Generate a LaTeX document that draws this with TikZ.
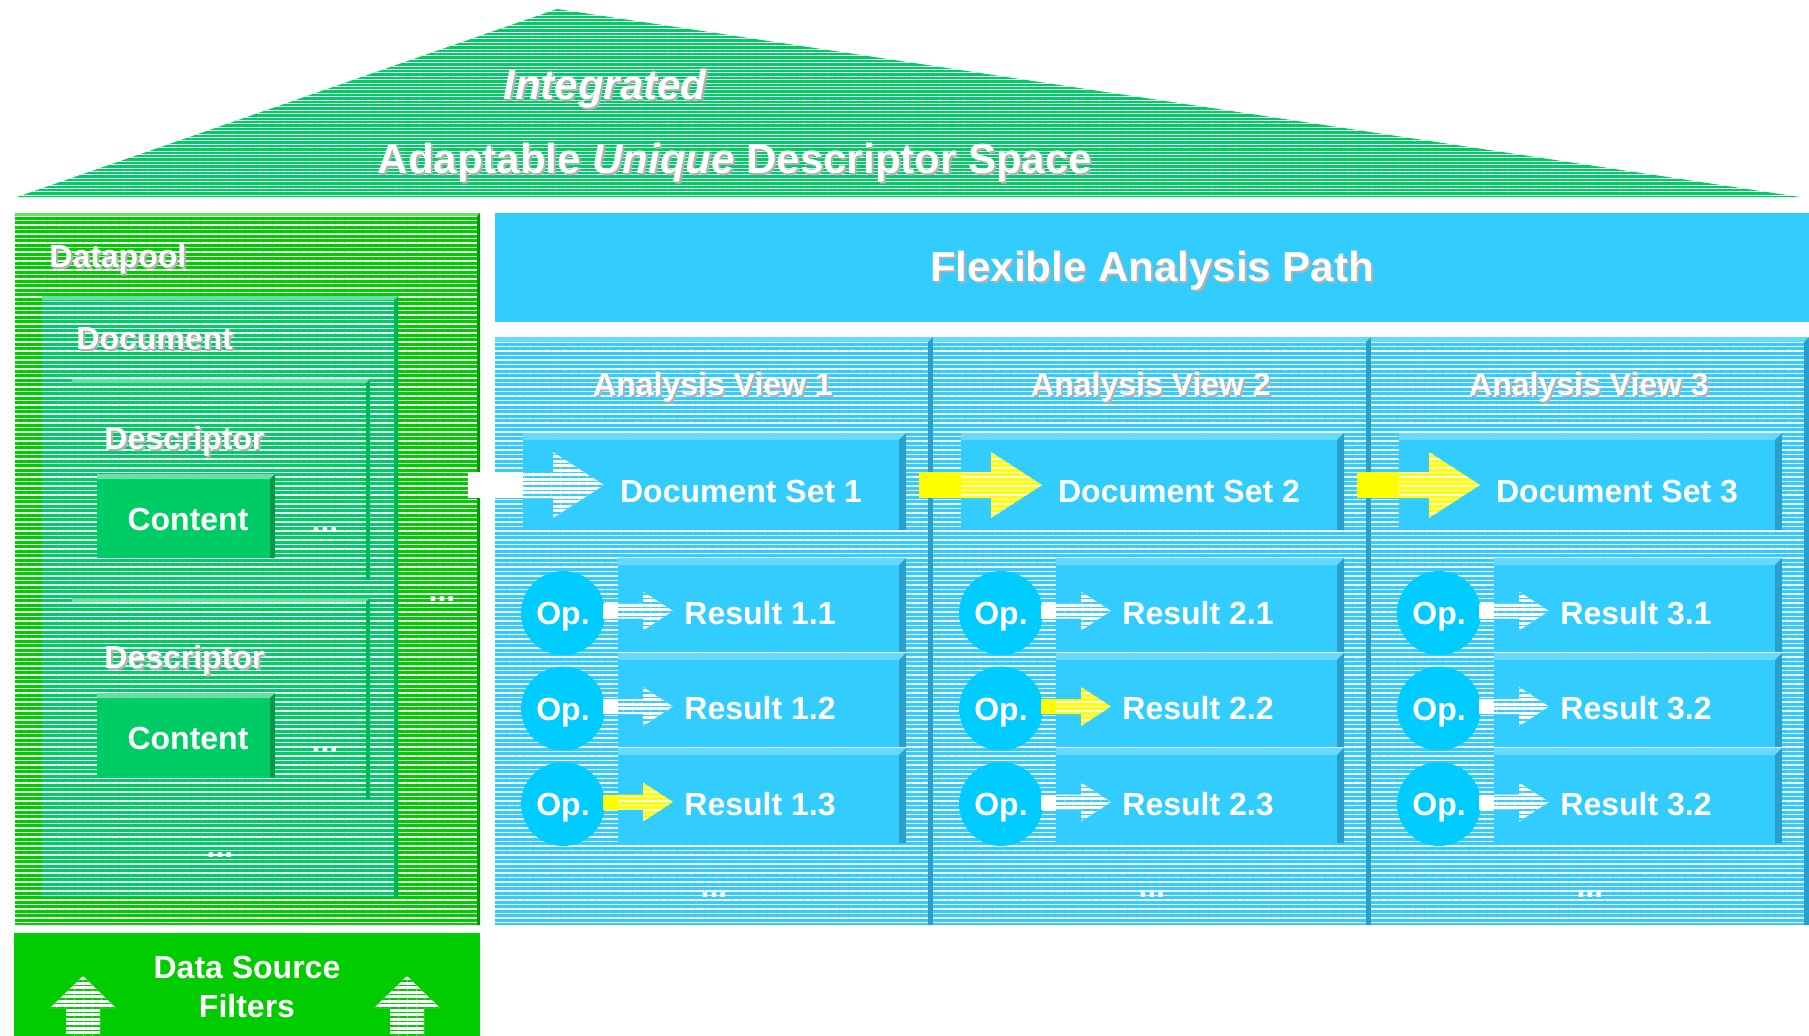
\documentclass[tikz,border=0pt]{standalone}
\usepackage{fontspec}
\setmainfont{Liberation Sans}
\usetikzlibrary{patterns.meta, fit, calc}

\definecolor{poolgreen}{HTML}{00CC00}
\definecolor{docgreen}{HTML}{00CC66}
\definecolor{pathblue}{HTML}{33CCFF}
\definecolor{opblue}{HTML}{00CCFF}
\definecolor{lightblue}{HTML}{66D9FF}
\definecolor{darkblue}{HTML}{2A9FCC}
\definecolor{markyellow}{HTML}{FFFF00}

\newcommand{\shadowed}[1]{\rlap{\kern1pt\raisebox{-1pt}{\color{black!30}#1}}#1}
% base colour, line colour, start x, box x, y, shaft half, head x, tip x, head half
\newcommand{\blockarrow}[9]{%
  \fill[#1] (#3,#5-#6) rectangle (#4,#5+#6);
  \path[preaction={fill=#1}, pattern={Lines[angle=0,distance=2.25pt,line width=0.6pt]}, pattern color=#2]
    (#4,#5-#6) -- (#7,#5-#6) -- (#7,#5-#9) -- (#8,#5) -- (#7,#5+#9) -- (#7,#5+#6) -- (#4,#5+#6) -- cycle;}

\begin{document}
\begin{tikzpicture}[x=0.5pt, y=-0.5pt,
    stripes/.style={preaction={fill=#1}, pattern={Lines[angle=0,distance=2.25pt,line width=0.6pt]}, pattern color=white},
    roof/.style={preaction={fill=docgreen}, pattern={Lines[angle=0,distance=1.7pt,line width=0.5pt]}, pattern color=white},
    bevel/.style n args={3}{path picture={
      \fill[#1] (path picture bounding box.north west) -- (path picture bounding box.north east)
        -- ($(path picture bounding box.north east)+(-#3,#3)$) -- ($(path picture bounding box.north west)+(0,#3)$) -- cycle;
      \fill[#2] ($(path picture bounding box.north east)+(-#3,#3)$) -- (path picture bounding box.north east)
        -- (path picture bounding box.south east) -- ($(path picture bounding box.south east)+(-#3,0)$) -- cycle;}},
    plainbox/.style={inner sep=0pt, outer sep=0pt},
    pool/.style={plainbox, stripes=poolgreen, bevel={poolgreen!60!white}{poolgreen!75!black}{3}},
    docbox/.style={plainbox, stripes=docgreen, bevel={docgreen!60!white}{docgreen!88!black}{4}},
    contentbox/.style={plainbox, fill=docgreen, bevel={docgreen!60!white}{docgreen!75!black}{5}},
    filterbox/.style={plainbox, fill=poolgreen},
    headbar/.style={plainbox, fill=pathblue},
    panel/.style={plainbox, stripes=pathblue, bevel={lightblue}{darkblue}{5}},
    setbox/.style={plainbox, fill=pathblue, bevel={lightblue}{darkblue}{7}},
    opnode/.style={circle, fill=opblue, minimum size=42pt, inner sep=0pt, text height=11.5pt, text depth=0pt,
      text=white, font=\fontsize{16}{19}\selectfont\bfseries},
    lbl/.style={text=white, font=\fontsize{16}{19.5}\selectfont\bfseries, inner sep=0pt},
    title/.style={text=white, font=\fontsize{21}{25}\selectfont\bfseries, inner sep=0pt}]

    \useasboundingbox (0,0) rectangle (1809,1035);

    % Roof
    \path[roof] (17,197) -- (557,9) -- (1800,197) -- cycle;
    \node[title, font=\fontsize{21}{25}\selectfont\bfseries\itshape] (integrated) at (605,90) {\shadowed{Integrated}};
    \node[title] (space) at (735,164) {\shadowed{Adaptable \textit{Unique} Descriptor Space}};

    % Datapool
    \node[pool, fit={(15,213) (480,925)}] (datapool) {};
    \node[lbl, anchor=west] (datapool text) at (49,260) {\shadowed{Datapool}};
    \node[docbox, fit={(42,296) (398,897)}] (document) {};
    \node[lbl, anchor=west] (document text) at (76,340) {\shadowed{Document}};
    \foreach \d/\dy in {1/0, 2/219} {
        \node[docbox, fit={(72,379+\dy) (370,580+\dy)}] (desc\d) {};
        \node[lbl, anchor=west] (desc\d text) at (104,442+\dy) {\shadowed{Descriptor}};
        \node[contentbox, fit={(97,474+\dy) (275,558+\dy)}] (content\d) {};
        \node[lbl] (content\d text) at (188,519+\dy) {Content};
        \node[lbl] (desc\d dots) at (325,530+\dy) {...};
    }
    \node[lbl] (document dots) at (442,599) {...};
    \node[lbl] (datapool dots) at (220,855) {...};

    % Data source filters
    \node[filterbox, fit={(14,933) (480,1040)}] (filters) {};
    \node[lbl, align=center] (filters text) at (247,987) {Data Source\\Filters};
    \foreach \x in {83,407}
        \path[preaction={fill=white}, pattern={Lines[angle=0,distance=2.25pt,line width=0.6pt]}, pattern color=poolgreen]
            (\x-17,1040) -- (\x-17,1008) -- (\x-33,1008) -- (\x,976) -- (\x+33,1008) -- (\x+17,1008) -- (\x+17,1040) -- cycle;

    % Analysis path
    \node[headbar, fit={(495,213) (1809,322)}] (flexbar) {};
    \node[title] (flexbar text) at (1152,272) {\shadowed{Flexible Analysis Path}};
    \foreach \c in {0,1,2} {
        \pgfmathtruncatemacro{\n}{\c+1}
        \pgfmathsetmacro{\dx}{438*\c}
        \node[panel, fit={(495+\dx,337) (933+\dx,925)}] (view\n) {};
        \node[lbl] (view\n title) at (713+\dx,388) {\shadowed{Analysis View \n}};
        \node[setbox, fit={(523+\dx,433) (906+\dx,530)}] (set\n) {};
        \node[lbl] (set\n text) at (741+\dx,491) {Document Set \n};
        \node[lbl] (view\n dots) at (714+\dx,895) {...};
        \foreach \r/\top/\bot in {1/558/652, 2/653/747, 3/748/843} {
            \pgfmathsetmacro{\oy}{613+95.5*(\r-1)}
            \node[setbox, fit={(618+\dx,\top) (906+\dx,\bot)}] (res\n\r) {};
            \node[opnode] (op\n\r) at (563+\dx,\oy) {Op.};
        }
    }

    % Result arrows and labels
    \foreach \c/\r/\ac/\pc/\lab in {0/1/white/pathblue/1.1, 0/2/white/pathblue/1.2, 0/3/markyellow/white/1.3,
                                    1/1/white/pathblue/2.1, 1/2/markyellow/white/2.2, 1/3/white/pathblue/2.3,
                                    2/1/white/pathblue/3.1, 2/2/white/pathblue/3.2, 2/3/white/pathblue/3.2} {
        \pgfmathsetmacro{\dx}{438*\c}
        \pgfmathtruncatemacro{\n}{\c+1}
        \pgfmathsetmacro{\ry}{611+95.5*(\r-1)}
        \node[lbl] (res\n\r text) at (760+\dx,\ry+2) {Result \lab};
        \blockarrow{\ac}{\pc}{603+\dx}{618+\dx}{\ry}{7.5}{643+\dx}{673+\dx}{19.5}
    }

    % Document set arrows
    \foreach \c/\x/\ac/\pc in {0/468/white/pathblue, 1/919/markyellow/white, 2/1357/markyellow/white} {
        \pgfmathsetmacro{\dx}{438*\c}
        \blockarrow{\ac}{\pc}{\x}{523+\dx}{485}{13}{553+\dx}{604+\dx}{33}
    }
\end{tikzpicture}
\end{document}
